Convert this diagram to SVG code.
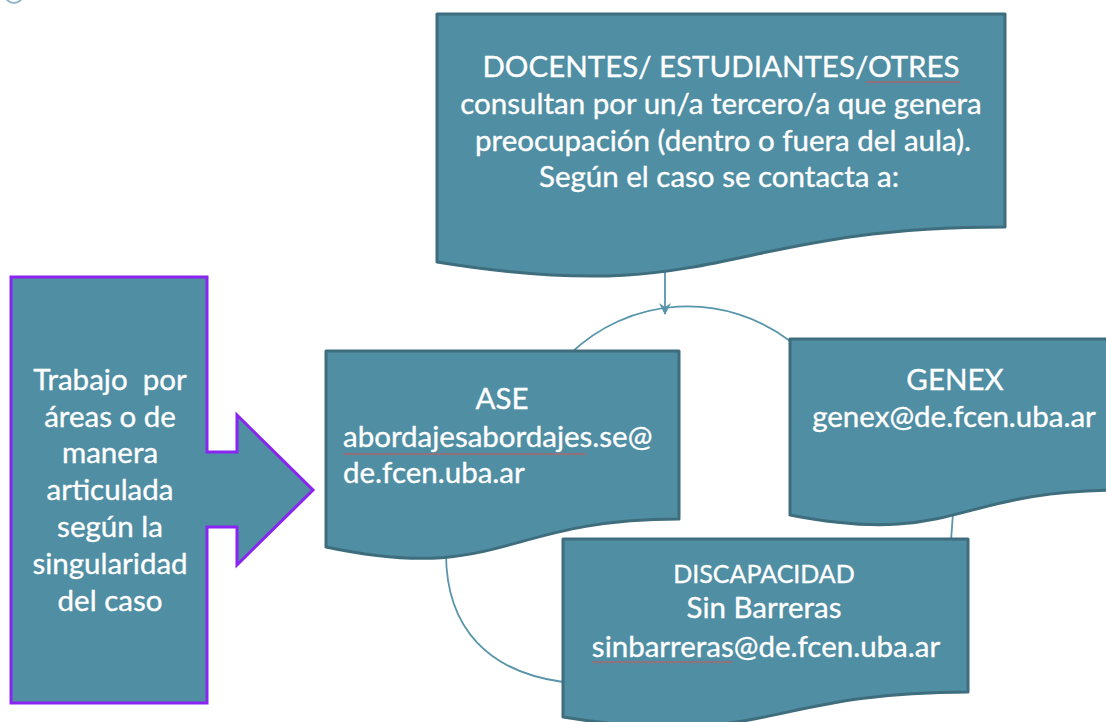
<svg xmlns="http://www.w3.org/2000/svg" width="1106" height="722" viewBox="0 0 1106 722">
<style>
.doc{fill:#508ea3;stroke:#3e6d7d;stroke-width:3;stroke-linejoin:round}
.conn{fill:none;stroke:#5895aa;stroke-width:1.8}
.t{fill:#ffffff;stroke:#ffffff;stroke-width:0.35;font-family:Lato,"Open Sans","DejaVu Sans",sans-serif;font-size:29.5px;text-anchor:middle}
.tl{text-anchor:start}
</style>
<defs>
<marker id="ah" viewBox="0 0 12 12" refX="11" refY="6" markerWidth="12" markerHeight="12" markerUnits="userSpaceOnUse" orient="auto">
<path d="M0,0 L12,6 L0,12 L4,6 Z" fill="#5895aa"/>
</marker>
<pattern id="wave" width="6" height="4" patternUnits="userSpaceOnUse">
<path d="M0,3 Q1.5,0 3,2 T6,1" fill="none" stroke="#d9534f" stroke-width="1"/>
</pattern>
</defs>
<circle cx="14" cy="-6" r="9" fill="none" stroke="#8fb6c4" stroke-width="2"/>
<g id="connectors">
<line class="conn" x1="665" y1="272" x2="665" y2="314" marker-end="url(#ah)"/>
<path class="conn" d="M570,354 A169,169 0 0 1 790,341"/>
<path class="conn" d="M953,513 L951,541"/>
<path class="conn" d="M446,553 C446,630 490,672 563,682"/>
</g>
<g id="node-top">
<path class="doc" d="M437,14 H1005 V227 C721,227 721,308 437,262 Z"/>
<text class="t" x="721" y="77">DOCENTES/ ESTUDIANTES/OTRES</text>
<text class="t" x="721" y="114">consultan por un/a tercero/a que genera</text>
<text class="t" x="723" y="151">preocupación (dentro o fuera del aula).</text>
<text class="t" x="719" y="187">Según el caso se contacta a:</text>
<rect x="866" y="81" width="94" height="4" fill="url(#wave)"/>
</g>
<g id="node-left">
<path d="M11,277 H207 V452 H237 V415 L313,490 L237,565 V527 H207 V703 H11 Z" fill="#508ea3" stroke="#8a24f0" stroke-width="3" stroke-linejoin="miter"/>
<text class="t" x="110" y="390" xml:space="preserve">Trabajo  por</text>
<text class="t" x="110" y="427">áreas o de</text>
<text class="t" x="110" y="463">manera</text>
<text class="t" x="110" y="500">articulada</text>
<text class="t" x="110" y="537">según la</text>
<text class="t" x="110" y="574">singularidad</text>
<text class="t" x="110" y="611">del caso</text>
</g>
<g id="node-ase">
<path class="doc" d="M326,351 H679 V519 C502,519 502,584 326,547 Z"/>
<text class="t" x="502" y="409">ASE</text>
<text class="t tl" x="343" y="447">abordajesabordajes.se@</text>
<text class="t tl" x="343" y="483">de.fcen.uba.ar</text>
<rect x="343" y="452" width="243" height="4" fill="url(#wave)"/>
</g>
<g id="node-genex">
<path class="doc" d="M790,339 H1120 V490 C955,490 955,547 790,515 Z"/>
<text class="t" x="955" y="390">GENEX</text>
<text class="t" x="954" y="427">genex@de.fcen.uba.ar</text>
</g>
<g id="node-discapacidad">
<path class="doc" d="M563,539 H968 V692 C765,692 765,750 563,717 Z"/>
<text class="t" x="764" y="583" style="font-size:25px">DISCAPACIDAD</text>
<text class="t" x="764" y="618">Sin Barreras</text>
<text class="t" x="766" y="657">sinbarreras@de.fcen.uba.ar</text>
<rect x="592" y="661" width="140" height="4" fill="url(#wave)"/>
</g>
</svg>
